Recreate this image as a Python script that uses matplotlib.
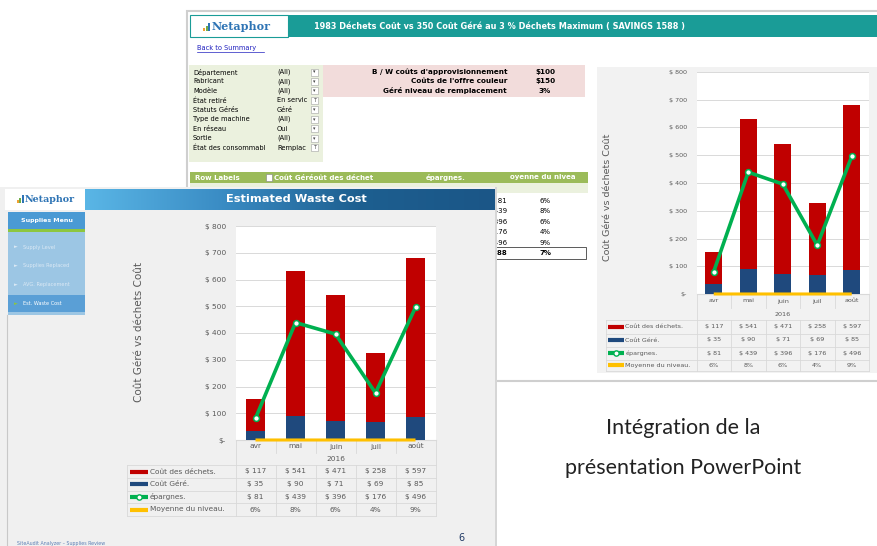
import numpy as np
import matplotlib.pyplot as plt
from matplotlib.patches import Rectangle
from matplotlib.ticker import FuncFormatter
from matplotlib.colors import LinearSegmentedColormap
import matplotlib.transforms as mtransforms

W, H = 877, 546

# chart data
months = ["avr", "mai", "juin", "juil", "août"]
year = "2016"
waste = [117, 541, 471, 258, 597]
managed = [35, 90, 71, 69, 85]
savings = [81, 439, 396, 176, 496]
level = [6, 8, 6, 4, 9]
series = ["Coût des déchets.", "Coût Géré.", "épargnes.", "Moyenne du niveau."]
yticks = [0, 100, 200, 300, 400, 500, 600, 700, 800]
ylabel = "Coût Géré vs déchets Coût"

# excel sheet texts
excel_title = "1983 Déchets Coût vs 350 Coût Géré au 3 % Déchets Maximum ( SAVINGS 1588 )"
filters = ["Département", "Fabricant", "Modèle", "État retiré", "Statuts Gérés",
           "Type de machine", "En réseau", "Sortie", "État des consommabl"]
filter_vals = ["(All)", "(All)", "(All)", "En servic", "Géré", "(All)", "Oui", "(All)", "Remplac"]
filter_set = [False, False, False, True, False, False, False, False, True]
params = ["B / W coûts d'approvisionnement", "Coûts de l'offre couleur", "Géré niveau de remplacement"]
param_vals = [r"\$100", r"\$150", "3%"]
menu = ["Supply Level", "Supplies Replaced", "AVG. Replacement", "Est. Waste Cost"]

c_red = "#c00000"
c_blue = "#1f497d"
c_green = "#00b050"
c_yellow = "#ffc000"
c_grid = "#d9d9d9"
c_txt = "#595959"

fig = plt.figure(figsize=(8.77, 5.46), dpi=100)
bg = fig.add_axes([0, 0, 1, 1])
bg.set_xlim(0, W)
bg.set_ylim(H, 0)
bg.axis("off")


def rect(x0, y0, x1, y1, fc, ec="none", lw=0, z=1):
    bg.add_patch(Rectangle((x0, y0), x1 - x0, y1 - y0, facecolor=fc,
                           edgecolor=ec, linewidth=lw, zorder=z))


def box(x0, y0, x1, y1):
    return [x0 / W, 1 - y1 / H, (x1 - x0) / W, (y1 - y0) / H]


# ---------------- Excel sheet (back) ----------------
rect(187, 11, 880, 381, "white", ec="#cfcfcf", lw=1.5, z=1)
rect(190, 15, 288, 37, "white", ec="#1a9c97", lw=0.8, z=2)
rect(288, 15, 877, 37, "#1a9c97", z=2)
bg.text(499, 26.5, excel_title, color="white", fontsize=5.9, fontweight="bold",
        ha="center", va="center", zorder=3)
for i, (hh, cc) in enumerate(zip([3, 5, 8], ["#f0a030", "#70ad47", "#2e74b5"])):
    rect(203 + i * 2.6, 31 - hh, 205 + i * 2.6, 31, cc, z=3)
bg.text(212, 26.5, "Netaphor", color="#2e74b5", fontsize=8, family="serif",
        fontweight="bold", ha="left", va="center", zorder=3)
bg.text(197, 48, "Back to Summary", color="#1f1fbf", fontsize=4.8, va="center", zorder=3)
bg.plot([197, 264], [51.5, 51.5], color="#1f1fbf", lw=0.5, zorder=3)

rect(189, 65, 323, 162, "#ebf1de", z=2)
for i, (f, v, s) in enumerate(zip(filters, filter_vals, filter_set)):
    y = 72 + i * 9.45
    bg.text(193, y, f, fontsize=4.8, va="center", zorder=3, clip_on=True)
    bg.text(277, y, v, fontsize=4.8, va="center", zorder=3)
    rect(311, y - 3.5, 318, y + 3.5, "white", ec="#a0a0a0", lw=0.4, z=4)
    bg.text(314.5, y, "T" if s else "▾", fontsize=3.5, ha="center", va="center",
            color="#404040", zorder=5)
rect(323, 65, 585, 97, "#f2dcdb", z=2)
for i, (p, v) in enumerate(zip(params, param_vals)):
    y = 72 + i * 9.45
    bg.text(507, y, p, fontsize=5.2, fontweight="bold", ha="right", va="center", zorder=3)
    bg.text(545, y, v, fontsize=5.2, fontweight="bold", ha="center", va="center", zorder=3)

rect(190, 172, 588, 183, "#9bbb59", z=2)
rect(190, 183, 588, 193, "#ebf1de", z=2)
bg.text(195, 177.5, "Row Labels", color="white", fontsize=5, fontweight="bold", va="center", zorder=3)
rect(266, 174, 272, 181, "white", ec="#808080", lw=0.4, z=3)
bg.text(274, 177.5, "Coût Géréoût des déchet", color="white", fontsize=5, fontweight="bold", va="center", zorder=3)
bg.text(426, 177.5, "épargnes.", color="white", fontsize=5, fontweight="bold", va="center", zorder=3)
bg.text(510, 177.5, "oyenne du nivea", color="white", fontsize=5, fontweight="bold", va="center", zorder=3,
        clip_on=True)
for i, (s, l) in enumerate(zip(savings, level)):
    y = 201 + i * 10.4
    bg.text(507, y, r"\$ %d" % s, fontsize=5, ha="right", va="center", zorder=3)
    bg.text(545, y, "%d%%" % l, fontsize=5, ha="center", va="center", zorder=3)
rect(485, 247, 586, 259, "none", ec="#404040", lw=0.6, z=3)
bg.text(507, 253, r"\$ %d" % sum(savings), fontsize=5, fontweight="bold", ha="right", va="center", zorder=3)
bg.text(545, 253, "%d%%" % round(np.mean(level)), fontsize=5, fontweight="bold", ha="center", va="center",
        zorder=3)

rect(597, 67, 877, 373, "#f2f2f2", z=2)

# ---------------- PowerPoint slide (front) ----------------
rect(0, 187, 495, 546, "#f0f0f0", z=10)
rect(495, 187, 497, 546, "#d6d6d6", z=10)
rect(5, 189, 85, 210, "white", z=11)
grad = LinearSegmentedColormap.from_list("hdr", ["#5ab6e6", "#3a8cc4", "#1d5f90", "#1b5687"])
bg.imshow(np.linspace(0, 1, 256)[None, :], cmap=grad, aspect="auto",
          extent=[85, 495, 210, 189], zorder=11)
bg.set_xlim(0, W)
bg.set_ylim(H, 0)
bg.text(296, 199.5, "Estimated Waste Cost", color="white", fontsize=8.2, fontweight="bold",
        ha="center", va="center", zorder=12)
for i, (hh, cc) in enumerate(zip([3, 5, 8], ["#f0a030", "#70ad47", "#2e74b5"])):
    rect(17 + i * 2.4, 203 - hh, 19 + i * 2.4, 203, cc, z=12)
bg.text(25, 199.5, "Netaphor", color="#2e74b5", fontsize=6.8, family="serif",
        fontweight="bold", ha="left", va="center", zorder=12)
rect(8, 212, 85, 229, "#4a9ad4", z=11)
rect(8, 229, 85, 231.5, "#8dc63f", z=11)
bg.text(46.5, 220.5, "Supplies Menu", color="white", fontsize=4.5, fontweight="bold",
        ha="center", va="center", zorder=12)
rect(8, 231.5, 85, 315, "#9cc6e4", z=11)
rect(8, 295, 85, 312, "#5a9fd6", z=11)
for i, m in enumerate(menu):
    y = 247 + i * 18.7
    bg.text(14, y, "►", color="#8dc63f" if i == 3 else "#dbe9f5", fontsize=3.5,
            va="center", zorder=12)
    bg.text(23, y, m, color="white" if i == 3 else "#dbe9f5", fontsize=3.6,
            va="center", zorder=12)
bg.plot([7, 7], [315, 546], color="#c8c8c8", lw=0.8, zorder=11)
bg.text(17, 543, "SiteAudit Analyzer – Supplies Review", color="#5b7fb5", fontsize=3.4,
        va="center", zorder=12)
bg.text(461, 538, "6", color="#1f3864", fontsize=7, ha="center", va="center", zorder=12)

# caption on the right
bg.text(683, 428, "Intégration de la", fontsize=15.5, family="Lato", color="#222222",
        ha="center", va="center", zorder=3)
bg.text(683, 468, "présentation PowerPoint", fontsize=15.5, family="Lato", color="#222222",
        ha="center", va="center", zorder=3)


def draw_chart(ax, fs, lab_x, lab_y, leg_w, rows):
    x = np.arange(len(months))
    ax.set_facecolor("white")
    ax.bar(x, managed, 0.48, color=c_blue, zorder=3)
    ax.bar(x, waste, 0.48, bottom=managed, color=c_red, zorder=3)
    ax.plot(x, [v / 100 for v in level], color=c_yellow, lw=2.2, zorder=4,
            solid_capstyle="butt", clip_on=False)
    ax.plot(x, savings, color=c_green, lw=2.6, marker="o", ms=4.2, mfc="white",
            mec=c_green, mew=1.1, zorder=5)
    ax.set_xlim(-0.5, len(months) - 0.5)
    ax.set_ylim(0, 800)
    ax.set_yticks(yticks)
    ax.yaxis.set_major_formatter(FuncFormatter(lambda v, p: r"\$-" if v == 0 else r"\$ %d" % v))
    ax.set_xticks([])
    ax.grid(axis="y", color=c_grid, lw=0.7, zorder=0)
    ax.tick_params(axis="y", length=0, labelsize=fs, labelcolor=c_txt, pad=7)
    for s in ["top", "right", "left"]:
        ax.spines[s].set_visible(False)
    ax.spines["bottom"].set_color(c_grid)
    ax.set_ylabel(ylabel, fontsize=fs + 2.2, color=c_txt)
    ax.yaxis.set_label_coords(lab_x, lab_y)

    ph = ax.get_position().height * H
    yb = [-r / ph for r in rows]
    tr = mtransforms.blended_transform_factory(ax.transData, ax.transAxes)
    xl = -0.5 - leg_w
    n = len(months)
    kw = dict(color=c_grid, lw=0.6, transform=tr, clip_on=False)
    for k in range(n + 1):
        xs = k - 0.5
        if 0 < k < n:
            ax.plot([xs, xs], [0, yb[1]], **kw)
            ax.plot([xs, xs], [yb[2], yb[-1]], **kw)
        else:
            ax.plot([xs, xs], [0, yb[-1]], **kw)
    ax.plot([xl, xl], [yb[2], yb[-1]], **kw)
    for b in yb[2:]:
        ax.plot([xl, n - 0.5], [b, b], **kw)

    for i, m in enumerate(months):
        ax.text(i, (yb[0] + yb[1]) / 2, m, fontsize=fs, color=c_txt, ha="center",
                va="center", transform=tr)
    ax.text((n - 1) / 2, (yb[1] + yb[2]) / 2, year, fontsize=fs, color=c_txt,
            ha="center", va="center", transform=tr)

    cols = [c_red, c_blue, c_green, c_yellow]
    values = [[r"\$ %d" % v for v in waste], [r"\$ %d" % v for v in managed],
              [r"\$ %d" % v for v in savings], ["%d%%" % v for v in level]]
    for r, (name, col, vals) in enumerate(zip(series, cols, values)):
        yc = (yb[r + 2] + yb[r + 3]) / 2
        ax.plot([xl + 0.06, xl + 0.52], [yc, yc], color=col, lw=3,
                solid_capstyle="butt", transform=tr, clip_on=False)
        if r == 2:
            ax.plot([xl + 0.29], [yc], marker="o", ms=3.8, mfc="white", mec=col,
                    mew=1, transform=tr, clip_on=False)
        ax.text(xl + 0.56, yc, name, fontsize=fs, color=c_txt, ha="left",
                va="center", transform=tr)
        for i, v in enumerate(vals):
            ax.text(i, yc, v, fontsize=fs, color=c_txt, ha="center",
                    va="center", transform=tr)


ax1 = fig.add_axes(box(235.5, 226, 435.5, 440))
ax1.set_zorder(20)
draw_chart(ax1, 5.3, -0.46, 0.505, 2.71, [0, 13, 25, 38, 50.5, 63, 76])

ax2 = fig.add_axes(box(696.5, 72, 869, 294))
draw_chart(ax2, 4.6, -0.49, 0.437, 2.62, [0, 14, 26, 39.5, 52.5, 65.5, 77])

fig.savefig("out.png", dpi=100)
